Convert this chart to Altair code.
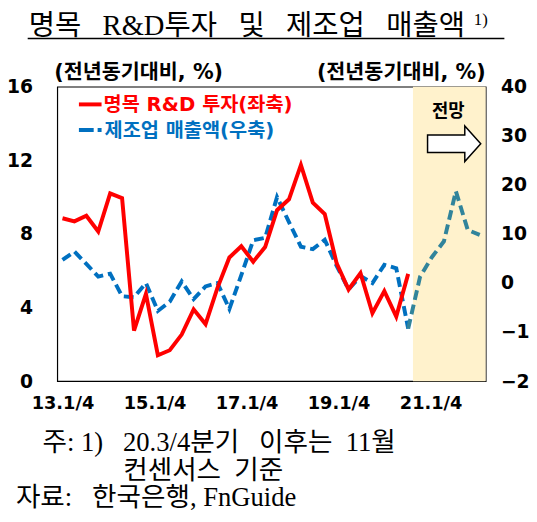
import json
import altair as alt
import pandas as pd

# ---------------- data ----------------
x_labels = ["13.1/4", "15.1/4", "17.1/4", "19.1/4", "21.1/4"]

# 명목 R&D 투자 (좌축, %), 13.1Q ~ 20.2Q
rd_invest = [8.85, 8.68, 8.99, 8.13, 10.2, 9.94, 2.75, 4.74, 1.41, 1.68,
             2.53, 3.9, 3.1, 5.07, 6.72, 7.33, 6.49, 7.29, 9.29, 9.88,
             11.75, 9.7, 9.08, 6.4, 4.98, 5.87, 3.69, 4.89, 3.51, 5.83]

# 제조업 매출액 (우축, %), 실적 13.1Q ~ 20.2Q
mfg_sales = [4.7, 6.4, 3.9, 1.3, 1.9, -2.7, -2.9, 0.0, -5.7, -3.8,
             0.3, -3.3, -0.7, 0.0, -5.3, 1.6, 8.7, 9.2, 17.5, 12.4,
             7.4, 6.9, 8.8, 3.5, -1.3, 1.4, 0.0, 3.7, 3.0, -9.3]

# 제조업 매출액 전망 (20.2Q 실적에서 이어짐 ~ 21.4Q)
mfg_sales_fc = [-9.3, 1.3, 5.3, 8.5, 18.7, 10.8, 9.8]

# ---------------- layout constants ----------------
W, H = 435, 299
LABEL_STEP = 7.72
X_DOMAIN = [-0.44, 35.5]
SHADE_START = 29.4
RED = "#FF0000"
BLUE = "#0070C0"
TEAL = "#31849B"
SANS = "DejaVu Sans, Noto Sans CJK KR"
SERIF = "Liberation Serif, Noto Sans CJK KR"
EN = "\u2002"
GAP = "\u2002 "

red_df = pd.DataFrame({"i": list(range(len(rd_invest))), "v": rd_invest})
n = len(mfg_sales)
blue_df = pd.concat([
    pd.DataFrame({"i": list(range(n)), "v": mfg_sales, "part": "실적"}),
    pd.DataFrame({"i": list(range(n - 1, n - 1 + len(mfg_sales_fc))), "v": mfg_sales_fc, "part": "전망"}),
], ignore_index=True)
shade_df = pd.DataFrame({"x0": [SHADE_START], "x1": [X_DOMAIN[1]]})

label_expr = json.dumps(x_labels) + f"[round(datum.value/{LABEL_STEP})]"
x_axis = alt.Axis(values=[k * LABEL_STEP for k in range(len(x_labels))], labelExpr=label_expr,
                  title=None, grid=False, domain=False, ticks=False, labelPadding=14,
                  labelFont=SANS, labelFontSize=18, labelFontWeight="bold", labelColor="black",
                  labelFlush=False, labelOverlap=False)
x_scale = alt.Scale(domain=X_DOMAIN, nice=False, zero=False)

shade = alt.Chart(shade_df).mark_rect(color="#FFF2CC").encode(
    x=alt.X("x0:Q", scale=x_scale, axis=x_axis), x2="x1:Q",
    y=alt.value(0), y2=alt.value(H))

blue = alt.Chart(blue_df).mark_line(strokeWidth=4, strokeDash=[10, 5]).encode(
    x=alt.X("i:Q", scale=x_scale, axis=x_axis),
    y=alt.Y("v:Q", scale=alt.Scale(domain=[-20, 40], nice=False, zero=False),
            axis=alt.Axis(orient="right", values=list(range(-20, 41, 10)), title=None, grid=False,
                          domain=False, ticks=False, labelPadding=15, labelFont=SANS,
                          labelFontSize=19, labelFontWeight="bold", labelColor="black",
                          labelFlush=False, labelOverlap=False)),
    color=alt.Color("part:N", scale=alt.Scale(domain=["실적", "전망"], range=[BLUE, TEAL]), legend=None),
    order="i:Q")

red = alt.Chart(red_df).mark_line(strokeWidth=4, color=RED).encode(
    x=alt.X("i:Q", scale=x_scale, axis=x_axis),
    y=alt.Y("v:Q", scale=alt.Scale(domain=[0, 16], nice=False, zero=False),
            axis=alt.Axis(orient="left", values=[0, 4, 8, 12, 16], title=None, grid=False,
                          domain=False, ticks=False, labelPadding=25, labelFont=SANS,
                          labelFontSize=19, labelFontWeight="bold", labelColor="black",
                          labelFlush=False, labelOverlap=False)))

one = pd.DataFrame({"k": [0]})


def text(t, x, y, size, font=SANS, bold=True, color="black", align="left", baseline="middle"):
    return alt.Chart(pd.DataFrame({"t": [t]})).mark_text(
        font=font, fontSize=size, fontWeight="bold" if bold else "normal", color=color,
        align=align, baseline=baseline).encode(text="t:N", x=alt.value(x), y=alt.value(y))


def rule(x, x2, y, color, width, dash=None):
    kw = dict(color=color, strokeWidth=width)
    if dash:
        kw["strokeDash"] = dash
    return alt.Chart(one).mark_rule(**kw).encode(x=alt.value(x), x2=alt.value(x2), y=alt.value(y))


arrow_path = "M -1 -0.33 L 0.4 -0.33 L 0.4 -0.67 L 1 0 L 0.4 0.67 L 0.4 0.33 L -1 0.33 Z"
arrow = alt.Chart(one).mark_point(shape=arrow_path, size=2916, filled=True, fill="white",
                                  stroke="black", strokeWidth=1.5, opacity=1).encode(
    x=alt.value(403), y=alt.value(58))

annotations = [
    rule(22, 45, 18, RED, 4),
    text("명목 R&D 투자(좌축)", 47, 19, 20, color=RED),
    rule(22, 46, 44, BLUE, 4, [15, 4, 4, 40]),
    text("제조업 매출액(우축)", 48, 45, 20, color=BLUE),
    text("(전년동기대비, %)", -3, -14, 21),
    text("(전년동기대비, %)", W, -14, 21, align="right"),
    text("전망", 397, 26, 18, align="center"),
    arrow,
    text(f"명목{GAP}R&D투자{GAP}및{GAP}제조업{GAP}매출액", -29, -52, 29, font=SERIF, bold=False,
         baseline="alphabetic"),
    text("1)", 423, -63, 17, font=SERIF, bold=False, baseline="alphabetic"),
    rule(-30, 454, -49, "black", 1.5),
    text(f"주: 1){GAP}20.3/4분기{GAP}이후는{EN}11월", -15, 362, 27, font=SERIF, bold=False),
    text(f"컨센서스{EN}기준", 67, 390, 27, font=SERIF, bold=False),
    text(f"자료:{GAP}한국은행, FnGuide", -42, 418, 27, font=SERIF, bold=False),
]

chart = alt.layer(shade, blue, red, *annotations).resolve_scale(y="independent").properties(
    width=W, height=H,
    padding={"left": 50, "top": 76, "right": 44, "bottom": 131},
    autosize=alt.AutoSizeParams(type="none"),
    background="white",
).configure_view(stroke="black", strokeWidth=1.2)

chart.save("out.html", embed_options={"renderer": "svg", "actions": False})
